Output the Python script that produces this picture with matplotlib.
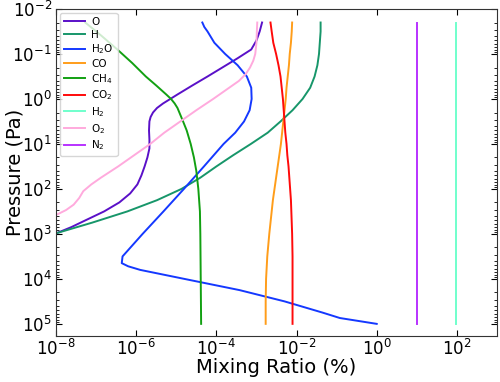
import numpy as np
import matplotlib
matplotlib.use("Agg")
import matplotlib.pyplot as plt

# ---- data: log10 pressure (Pa) and log10 mixing ratio (%) per species ----
logp_O = [-1.7, -1.5, -1.3, -1.1, -0.9, -0.7, -0.5, -0.3, -0.1, 0.0, 0.1, 0.2, 0.3, 0.4,
          0.5, 0.7, 0.9, 1.1, 1.3, 1.5, 1.7, 1.9, 2.1, 2.3, 2.5, 2.7, 2.85, 3.0]
log_O = [-2.86, -2.92, -3.00, -3.13, -3.48, -3.85, -4.22, -4.60, -4.97, -5.15, -5.33, -5.48,
         -5.58, -5.64, -5.67, -5.68, -5.67, -5.67, -5.72, -5.79, -5.87, -5.97, -6.15, -6.42,
         -6.80, -7.27, -7.62, -8.03]

logp_H = [-1.7, -1.5, -1.25, -1.0, -0.75, -0.5, -0.25, 0.0, 0.25, 0.5, 0.75, 1.0,
          1.25, 1.5, 1.75, 2.0, 2.25, 2.5, 2.75, 3.0]
log_H = [-1.40, -1.40, -1.42, -1.44, -1.48, -1.55, -1.66, -1.85, -2.10, -2.40, -2.72, -3.14,
         -3.58, -4.00, -4.40, -4.87, -5.48, -6.22, -7.10, -8.05]

logp_H2O = [-1.7, -1.6, -1.5, -1.25, -1.0, -0.75, -0.5, -0.25, 0.0, 0.25, 0.5, 0.75, 1.0, 1.5,
            2.0, 2.5, 3.0, 3.5, 3.65, 3.72, 3.8, 4.0, 4.25, 4.5, 4.75, 4.87, 5.0]
log_H2O = [-4.35, -4.30, -4.22, -4.05, -3.78, -3.47, -3.24, -3.13, -3.12, -3.17, -3.31, -3.53,
           -3.82, -4.31, -4.81, -5.32, -5.84, -6.34, -6.36, -6.20, -5.90, -4.80, -3.42, -2.30,
           -1.35, -0.92, 0.0]

logp_CO = [-1.7, -1.5, -1.25, -1.0, -0.75, -0.5, -0.25, 0.0, 0.25, 0.5, 0.75, 1.0,
           1.25, 1.5, 1.75, 2.0, 2.25, 2.5, 2.75, 3.0, 3.5, 4.0, 4.5, 5.0]
log_CO = [-2.11, -2.12, -2.14, -2.17, -2.19, -2.22, -2.25, -2.27, -2.30, -2.33, -2.36, -2.39,
          -2.43, -2.47, -2.51, -2.55, -2.59, -2.62, -2.65, -2.68, -2.73, -2.76, -2.77, -2.77]

logp_CH4 = [-1.7, -1.4, -1.1, -0.8, -0.5, -0.3, -0.1, 0.0, 0.1, 0.2, 0.35, 0.5, 0.7, 1.0,
            1.3, 1.6, 2.0, 2.5, 3.0, 4.0, 5.0]
log_CH4 = [-7.27, -6.86, -6.47, -6.10, -5.76, -5.50, -5.25, -5.13, -5.04, -4.97, -4.90, -4.83,
           -4.74, -4.64, -4.56, -4.50, -4.45, -4.41, -4.40, -4.39, -4.38]

logp_CO2 = [-1.7, -1.5, -1.25, -1.0, -0.75, -0.5, -0.25, 0.0, 0.25, 0.5, 0.75, 1.0,
            1.25, 1.5, 1.75, 2.0, 2.25, 2.5, 2.75, 3.0, 3.5, 4.0, 4.5, 5.0]
log_CO2 = [-2.65, -2.62, -2.58, -2.51, -2.45, -2.40, -2.37, -2.34, -2.32, -2.30, -2.28, -2.25,
           -2.23, -2.20, -2.18, -2.16, -2.14, -2.13, -2.12, -2.11, -2.10, -2.10, -2.10, -2.10]

logp_O2 = [-1.7, -1.5, -1.25, -1.0, -0.85, -0.7, -0.55, -0.4, -0.25, -0.1, 0.0, 0.25, 0.5,
           0.75, 1.0, 1.25, 1.5, 1.75, 1.9, 2.05, 2.2, 2.35, 2.47, 2.58]
log_O2 = [-2.98, -2.99, -3.00, -3.03, -3.08, -3.16, -3.27, -3.44, -3.68, -3.92, -4.08, -4.50,
          -4.90, -5.30, -5.65, -6.05, -6.45, -6.88, -7.12, -7.32, -7.42, -7.56, -7.75, -8.0]

logp_H2 = [-1.7, 5.0]
log_H2 = [1.97, 1.97]
logp_N2 = [-1.7, 5.0]
log_N2 = [1.0, 1.0]

labels = ['O', 'H', 'H$_2$O', 'CO', 'CH$_4$', 'CO$_2$', 'H$_2$', 'O$_2$', 'N$_2$']
colors = ['#5a10c8', '#17966a', '#1438ff', '#ff9d1a', '#12a012', '#ff0a0a',
          '#70ffcc', '#ffaadd', '#b832ff']
series = [(log_O, logp_O), (log_H, logp_H), (log_H2O, logp_H2O), (log_CO, logp_CO),
          (log_CH4, logp_CH4), (log_CO2, logp_CO2), (log_H2, logp_H2),
          (log_O2, logp_O2), (log_N2, logp_N2)]

fig = plt.figure(figsize=(5.0, 3.82), dpi=100)
ax = fig.add_axes([0.112, 0.1204, 0.882, 0.856])

for (lx, lp), lab, col in zip(series, labels, colors):
    ax.plot(10.0 ** np.asarray(lx), 10.0 ** np.asarray(lp), color=col, lw=1.4, label=lab)

ax.set_xscale('log')
ax.set_yscale('log')
ax.set_xlim(1e-8, 1e3)
ax.set_ylim(10 ** 5.27, 1e-2)

ax.set_xticks([1e-8, 1e-6, 1e-4, 1e-2, 1e0, 1e2])
ax.xaxis.set_minor_locator(matplotlib.ticker.NullLocator())
ax.set_yticks([1e-2, 1e-1, 1e0, 1e1, 1e2, 1e3, 1e4, 1e5])

ax.tick_params(which='both', direction='in', top=True, right=True, labelsize=12)
ax.tick_params(axis='x', pad=2)
ax.tick_params(axis='y', pad=3)
ax.tick_params(which='major', length=4)
ax.tick_params(which='minor', length=2)
for s in ax.spines.values():
    s.set_color('#333333')

ax.set_xlabel('Mixing Ratio (%)', fontsize=14)
ax.set_ylabel('Pressure (Pa)', fontsize=14)
ax.xaxis.set_label_coords(0.5, -0.067)
ax.yaxis.set_label_coords(-0.072, 0.5)

ax.legend(loc='upper left', fontsize=7.5, handlelength=2, labelspacing=0.27,
          borderaxespad=0.35, handletextpad=0.6)

fig.savefig('out.png', dpi=100)
